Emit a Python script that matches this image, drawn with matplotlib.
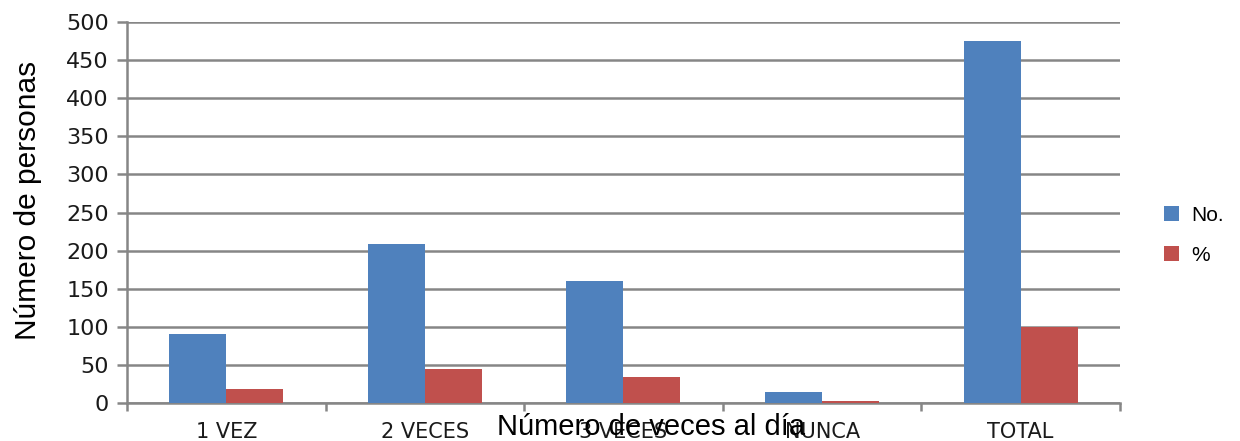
import numpy as np
import matplotlib
matplotlib.use('Agg')
import matplotlib.pyplot as plt

# data
categorias = ['1 VEZ', '2 VECES', '3 VECES', 'NUNCA', 'TOTAL']
numero = [91, 209, 160, 15, 475]
porcentaje = [19, 44, 34, 3, 100]

color_no = '#4F81BD'
color_pct = '#C0504D'
gris = '#868686'

fig = plt.figure(figsize=(12.4, 4.41), dpi=100)
ax = fig.add_axes([0.1024, 0.0862, 0.8008, 0.8638])

x = np.arange(len(categorias))
ancho = 0.287
ax.bar(x - ancho / 2, numero, ancho, color=color_no, label='No.', zorder=3)
ax.bar(x + ancho / 2, porcentaje, ancho, color=color_pct, label='%', zorder=3)

ax.set_xlim(-0.5, len(categorias) - 0.5)
ax.set_ylim(0, 500)
ax.set_yticks(np.arange(0, 501, 50))
ax.yaxis.grid(True, color=gris, linewidth=1.8, zorder=0)
ax.set_axisbelow(True)

# category ticks at boundaries, labels at centres
ax.set_xticks(x)
ax.set_xticklabels(categorias, fontsize=15, color='#1a1a1a')
ax.set_xticks(np.arange(-0.5, len(categorias)), minor=True)
ax.tick_params(axis='x', which='major', length=0, pad=14)
ax.tick_params(axis='x', which='minor', length=6, width=1.8, color=gris)
ax.tick_params(axis='y', length=7, width=1.8, color=gris, labelsize=16, pad=6,
               labelcolor='#1a1a1a')

for s in ['top', 'right']:
    ax.spines[s].set_visible(False)
for s in ['left', 'bottom']:
    ax.spines[s].set_color(gris)
    ax.spines[s].set_linewidth(1.8)

ax.set_ylabel('Número de personas', fontsize=21.5, family='Liberation Sans')
ax.yaxis.set_label_coords(-0.086, 0.533)
ax.set_xlabel('Número de veces al día', fontsize=21, family='Liberation Sans')
ax.xaxis.set_label_coords(0.528, -0.062)
ax.xaxis.label.set_va('center')

ax.legend(loc='center left', bbox_to_anchor=(1.025, 0.44), frameon=False,
          prop={'family': 'Liberation Sans', 'size': 15},
          handlelength=0.75, handleheight=0.75, handletextpad=0.6,
          labelspacing=1.0)

plt.savefig('out.png', dpi=100)
